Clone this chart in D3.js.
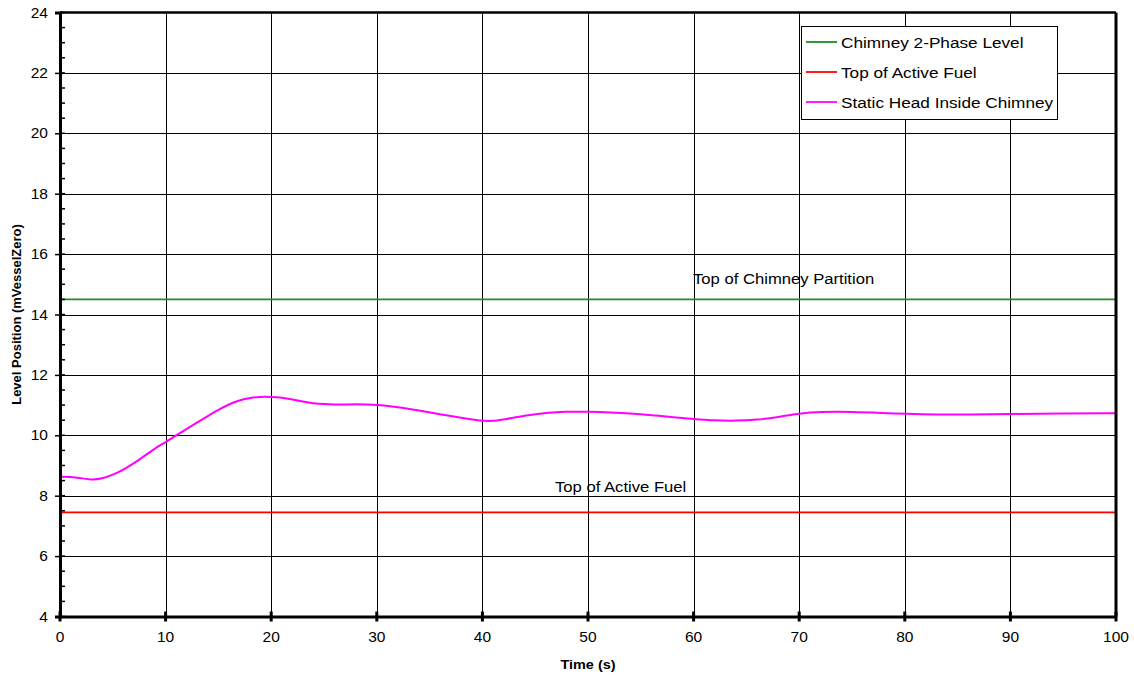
<!DOCTYPE html>
<html><head><meta charset="utf-8">
<script src="https://cdn.jsdelivr.net/npm/d3@7"></script>
<style>body{margin:0;background:#fff;} svg{display:block;} text{font-family:"Liberation Sans",Arial,sans-serif;}</style>
</head><body><svg id="c" width="1134" height="677"></svg>
<script>
const xTicks = [0,10,20,30,40,50,60,70,80,90,100];
const yTicks = [4,6,8,10,12,14,16,18,20,22,24];
const timeS = [0,1,2,3,4,5,6,7,8,9,10,11,12,13,14,15,16,17,18,19,20,21,22,23,24,25,26,27,28,29,30,32,34,36,38,40,41,42,44,46,48,50,52,55,58,60,62,64,66,68,70,72,75,78,80,83,86,90,95,100];
const staticHead = [8.63,8.63,8.58,8.52,8.56,8.69,8.86,9.07,9.32,9.57,9.77,10.0,10.21,10.43,10.64,10.84,11.03,11.16,11.24,11.28,11.27,11.25,11.19,11.12,11.06,11.03,11.02,11.02,11.03,11.02,11.01,10.94,10.82,10.7,10.58,10.47,10.47,10.52,10.65,10.75,10.79,10.78,10.76,10.7,10.6,10.54,10.49,10.48,10.51,10.6,10.73,10.78,10.78,10.74,10.71,10.68,10.69,10.71,10.72,10.73];
const chimneyLevel = [14.5,14.5];
const activeFuel = [7.45,7.45];
const flatTime = [0,100];
const seriesNames = ["Chimney 2-Phase Level","Top of Active Fuel","Static Head Inside Chimney"];
const seriesColors = ["#228B22","#ff0000","#ff00ff"];
const annotationText = ["Top of Chimney Partition","Top of Active Fuel"];

const SX = 1.11; // horizontal text stretch seen in reference
const svg = d3.select("#c");
const L=60, R=1116, T=12.5, B=616.5;
const x = d3.scaleLinear().domain([0,100]).range([L,R]);
const y = d3.scaleLinear().domain([4,24]).range([B,T]);

function stretchedText(parent, px, py, str, size, anchor, weight){
  return parent.append("text").attr("transform",`translate(${px},${py}) scale(${SX},1)`)
    .attr("text-anchor",anchor||"start").attr("font-size",size).attr("font-weight",weight||"normal")
    .attr("fill","#000").text(str);
}

// grid
const g = svg.append("g");
g.selectAll("line.v").data(xTicks.slice(1,-1)).join("line")
 .attr("x1",d=>Math.round(x(d))+0.5).attr("x2",d=>Math.round(x(d))+0.5).attr("y1",T).attr("y2",B)
 .attr("stroke","#000").attr("stroke-width",1);
g.selectAll("line.h").data(yTicks.slice(1,-1)).join("line")
 .attr("y1",d=>Math.round(y(d))+0.5).attr("y2",d=>Math.round(y(d))+0.5).attr("x1",L).attr("x2",R)
 .attr("stroke","#000").attr("stroke-width",1);

// lines
const line = d3.line().x(d=>x(d[0])).y(d=>y(d[1]));
svg.append("path").datum(flatTime.map((t,i)=>[t,chimneyLevel[i]])).attr("d",line).attr("fill","none").attr("stroke",seriesColors[0]).attr("stroke-width",1.8);
svg.append("path").datum(flatTime.map((t,i)=>[t,activeFuel[i]])).attr("d",line).attr("fill","none").attr("stroke",seriesColors[1]).attr("stroke-width",1.8);
svg.append("path").datum(timeS.map((t,i)=>[t,staticHead[i]])).attr("d",d3.line().x(d=>x(d[0])).y(d=>y(d[1])).curve(d3.curveBasis)).attr("fill","none").attr("stroke",seriesColors[2]).attr("stroke-width",2);

// frame
svg.append("line").attr("x1",L).attr("x2",R).attr("y1",T).attr("y2",T).attr("stroke","#000").attr("stroke-width",2.5);
svg.append("line").attr("x1",R).attr("x2",R).attr("y1",T).attr("y2",B).attr("stroke","#000").attr("stroke-width",3);

// y axis
const yAxis = d3.axisLeft(y).tickValues(yTicks).tickSize(5).tickFormat("");
const ya = svg.append("g").attr("transform",`translate(${L},0)`).call(yAxis);
ya.select(".domain").attr("stroke-width",3);
ya.selectAll(".tick line").attr("stroke-width",1.5);
yTicks.forEach(v=>stretchedText(svg, 48, y(v)+5, String(v), 14, "end"));
const minor = d3.range(4,24.01,0.5);
svg.append("g").selectAll("line").data(minor).join("line")
 .attr("x1",L).attr("x2",L+5).attr("y1",d=>y(d)).attr("y2",d=>y(d)).attr("stroke","#000").attr("stroke-width",1.5);

// x axis
const xAxis = d3.axisBottom(x).tickValues(xTicks).tickSize(0).tickFormat("");
const xa = svg.append("g").attr("transform",`translate(0,${B})`).call(xAxis);
xa.select(".domain").attr("stroke-width",3);
xTicks.forEach(v=>stretchedText(svg, x(v), 642, String(v), 14, "middle"));
svg.append("g").selectAll("line").data(xTicks).join("line")
 .attr("x1",d=>x(d)).attr("x2",d=>x(d)).attr("y1",B-5).attr("y2",B+5).attr("stroke","#000").attr("stroke-width",3);

// titles
stretchedText(svg, (L+R)/2, 669, "Time (s)", 13, "middle", "bold");
svg.append("text").attr("transform",`translate(21,${(T+B)/2}) rotate(-90)`).attr("text-anchor","middle").attr("font-size",13).attr("font-weight","bold").text("Level Position (mVesselZero)");

// annotations
stretchedText(svg, 693, y(chimneyLevel[0])-15, annotationText[0], 15, "start");
stretchedText(svg, 555, y(activeFuel[0])-20, annotationText[1], 15, "start");

// legend
const lg = svg.append("g");
lg.append("rect").attr("x",801.5).attr("y",26.5).attr("width",256).attr("height",93).attr("fill","#fff").attr("stroke","#000").attr("stroke-width",1);
seriesNames.forEach((n,i)=>{
  const yy = 42 + i*30;
  lg.append("line").attr("x1",806).attr("x2",837).attr("y1",yy).attr("y2",yy).attr("stroke",seriesColors[i]).attr("stroke-width",1.8);
  stretchedText(lg, 841, yy+5.5, n, 15.5, "start");
});
</script></body></html>
